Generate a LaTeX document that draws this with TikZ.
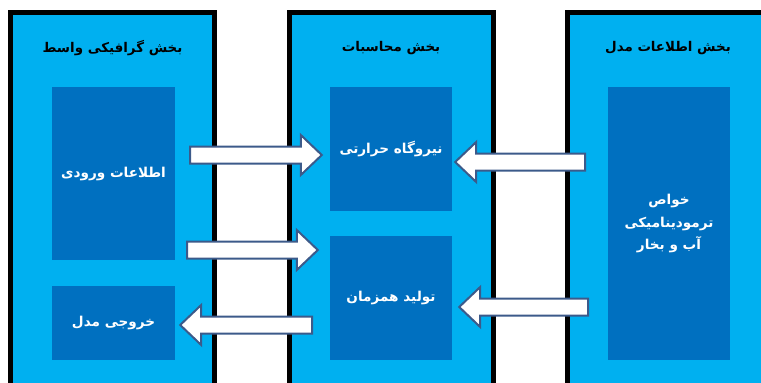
\documentclass[tikz,border=0pt]{standalone}
\usepackage{fontspec}
\usepackage{xcolor}
\usetikzlibrary{calc}
\newfontfamily\arabicfont[Script=Arabic]{DejaVu Sans}
\TeXXeTstate=1
\definecolor{panelblue}{HTML}{00B0F0}
\definecolor{boxblue}{HTML}{0070C0}
\definecolor{arrowline}{RGB}{60,90,138}

\begin{document}
\begin{tikzpicture}[
		x=1pt, y=-1pt,
		panel/.style={draw=black, line width=5pt, fill=panelblue, inner sep=0pt,
				minimum width=204pt, minimum height=387.5pt},
		box/.style={fill=boxblue, text=white, inner sep=0pt, align=center,
				font=\arabicfont\bfseries\fontsize{13.6}{22.5}\selectfont},
		title/.style={font=\arabicfont\bfseries\fontsize{13.4}{15}\selectfont},
		bigarrow/.style={draw=arrowline, line width=2pt, fill=white,
				to path={let \p1=(\tikztostart), \p2=(\tikztotarget),
						\p3=($(\tikztotarget)!21pt!(\tikztostart)$) in
						(\x1,\y1+8.5pt) -- (\x3,\y1+8.5pt) -- (\x3,\y1+20pt) -- (\x2,\y2)
						-- (\x3,\y1-20pt) -- (\x3,\y1-8.5pt) -- (\x1,\y1-8.5pt) -- cycle}}
	]
	\clip (0,0) rectangle (761,383);
	\node[panel] (gui) at (112.5,206.25) {};
	\node[panel] (calc) at (391,206.25) {};
	\node[panel] (model) at (669.5,206.25) {};
	\node[title] (guititle) at (112.5,48) {\beginR بخش گرافیکی واسط\endR};
	\node[title] (calctitle) at (391,48) {\beginR بخش محاسبات\endR};
	\node[title] (modeltitle) at (668,48) {\beginR بخش اطلاعات مدل\endR};
	\node[box, minimum width=123pt, minimum height=173pt] (input) at (113.5,173.5)
		{\beginR اطلاعات ورودی\endR};
	\node[box, minimum width=123pt, minimum height=74pt] (output) at (113.5,323)
		{\beginR خروجی مدل\endR};
	\node[box, minimum width=122pt, minimum height=124pt] (plant) at (391,149)
		{\beginR نیروگاه حرارتی\endR};
	\node[box, minimum width=122pt, minimum height=124pt] (chp) at (391,298)
		{\beginR تولید همزمان\endR};
	\node[box, minimum width=122pt, minimum height=273pt] (props) at (669,223.5)
		{\beginR خواص\endR\\ \beginR ترمودینامیکی\endR\\ \beginR آب و بخار\endR};
	\coordinate (inA) at (190,155);
	\coordinate (inB) at (187,250);
	\coordinate (propA) at (585,162);
	\coordinate (propB) at (588,307);
	\coordinate (outA) at (312,325);
	\draw[bigarrow] (inA) to ($(plant.west |- inA)+(-8,0)$);
	\draw[bigarrow] (inB) to ($(chp.west |- inB)+(-12,0)$);
	\draw[bigarrow] (propA) to ($(plant.east |- propA)+(3,0)$);
	\draw[bigarrow] (propB) to ($(chp.east |- propB)+(7,0)$);
	\draw[bigarrow] (outA) to ($(output.east |- outA)+(5,0)$);
\end{tikzpicture}
\end{document}
